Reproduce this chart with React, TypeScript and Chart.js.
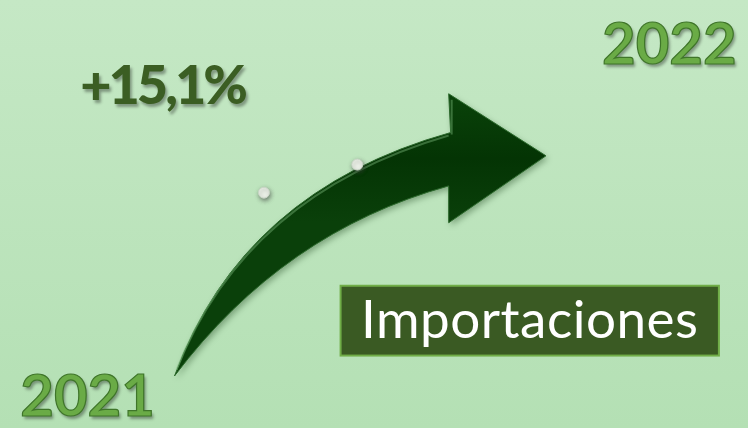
import React, { useEffect, useRef } from "react";
import { Chart, registerables } from "chart.js";

Chart.register(...registerables);

// ---- data ----
const years: string[] = ["2021", "2022"];
const growthLabel: string = "+15,1%";
const titleLabel: string = "Importaciones";
const beadX: number[] = [262, 357];
const beadY: number[] = [192, 163];

const W = 748;
const H = 428;

// arrow geometry in scale units (same units as the axes)
const arrowTail = { x: 171, y: 381 };
const upperCtrl = { x: 240, y: 190 };
const upperEnd = { x: 452, y: 130 };
const lowerCtrl = { x: 282, y: 232 };
const lowerEnd = { x: 450, y: 185 };
const headTop = { x: 450, y: 90 };
const headTip = { x: 549, y: 154 };
const headBottom = { x: 450, y: 223 };

const decorPlugin = {
  id: "decor",
  beforeDraw(chart: any) {
    const { ctx } = chart;
    const g = ctx.createLinearGradient(0, 0, 0, chart.height);
    g.addColorStop(0, "#c5e8c5");
    g.addColorStop(1, "#b4e0b4");
    ctx.save();
    ctx.fillStyle = g;
    ctx.fillRect(0, 0, chart.width, chart.height);
    ctx.restore();
  },
  beforeDatasetsDraw(chart: any) {
    const { ctx, scales } = chart;
    const px = (p: { x: number; y: number }) => [
      scales.x.getPixelForValue(p.x),
      scales.y.getPixelForValue(p.y),
    ];
    const [tx, ty] = px(arrowTail);
    const [ucx, ucy] = px(upperCtrl);
    const [uex, uey] = px(upperEnd);
    const [lcx, lcy] = px(lowerCtrl);
    const [lex, ley] = px(lowerEnd);
    const [htx, hty] = px(headTop);
    const [hpx, hpy] = px(headTip);
    const [hbx, hby] = px(headBottom);

    ctx.save();
    ctx.shadowColor = "rgba(0,40,0,0.35)";
    ctx.shadowBlur = 6;
    ctx.shadowOffsetX = 2;
    ctx.shadowOffsetY = 3;
    const fillG = ctx.createLinearGradient(0, hty, 0, hby);
    fillG.addColorStop(0, "#0a430a");
    fillG.addColorStop(0.5, "#043404");
    fillG.addColorStop(1, "#0a400a");
    ctx.fillStyle = fillG;
    ctx.beginPath();
    ctx.moveTo(tx, ty);
    ctx.quadraticCurveTo(ucx, ucy, uex, uey);
    ctx.lineTo(htx, hty);
    ctx.lineTo(hpx, hpy);
    ctx.lineTo(hbx, hby);
    ctx.lineTo(lex, ley);
    ctx.quadraticCurveTo(lcx, lcy, tx, ty);
    ctx.closePath();
    ctx.fill();
    ctx.shadowColor = "transparent";
    ctx.strokeStyle = "#2c6a2c";
    ctx.lineWidth = 1;
    ctx.stroke();
    // gloss along upper edge
    ctx.strokeStyle = "rgba(120,180,120,0.45)";
    ctx.lineWidth = 2;
    ctx.beginPath();
    ctx.moveTo(tx + 2, ty - 6);
    ctx.quadraticCurveTo(ucx + 3, ucy + 4, uex - 2, uey + 3);
    ctx.stroke();
    ctx.beginPath();
    ctx.moveTo(htx + 3, hty + 6);
    ctx.lineTo(htx + 3, uey + 2);
    ctx.stroke();
    ctx.restore();
  },
  afterDraw(chart: any) {
    const { ctx, scales } = chart;
    const X = (v: number) => scales.x.getPixelForValue(v);
    const Y = (v: number) => scales.y.getPixelForValue(v);
    ctx.save();
    ctx.textBaseline = "alphabetic";

    // growth label
    ctx.font = "900 54px Lato";
    (ctx as any).letterSpacing = "-3px";
    ctx.textAlign = "left";
    ctx.shadowColor = "rgba(0,0,0,0.35)";
    ctx.shadowBlur = 3;
    ctx.shadowOffsetX = 2;
    ctx.shadowOffsetY = 3;
    ctx.fillStyle = "#3b5e23";
    ctx.fillText(growthLabel, X(75), Y(101));
    (ctx as any).letterSpacing = "0px";

    // years
    const drawYear = (t: string, x: number, y: number, align: CanvasTextAlign) => {
      ctx.font = "bold 58px Lato";
      (ctx as any).letterSpacing = "0px";
      ctx.textAlign = align;
      ctx.shadowColor = "rgba(0,0,0,0.35)";
      ctx.shadowBlur = 3;
      ctx.shadowOffsetX = 2;
      ctx.shadowOffsetY = 3;
      ctx.fillStyle = "#6aab46";
      ctx.fillText(t, x, y);
      ctx.shadowColor = "transparent";
      ctx.strokeStyle = "#3f752a";
      ctx.lineWidth = 1.2;
      ctx.strokeText(t, x, y);
    };
    drawYear(years[0], X(14), Y(422), "left");
    drawYear(years[1], X(743), Y(59), "right");

    // title box
    ctx.shadowColor = "transparent";
    const bx = X(340), by = Y(288), bw = X(725) - X(340), bh = Y(360) - Y(288);
    ctx.fillStyle = "#3a5a23";
    ctx.fillRect(bx, by, bw, bh);
    ctx.strokeStyle = "#70ad47";
    ctx.lineWidth = 2;
    ctx.strokeRect(bx, by, bw, bh);
    ctx.fillStyle = "#ffffff";
    ctx.font = "53px Lato";
    (ctx as any).letterSpacing = "0.5px";
    ctx.textAlign = "center";
    ctx.fillText(titleLabel, bx + bw / 2, Y(342));
    ctx.restore();
  },
};

const beadShadowPlugin = {
  id: "beadShadow",
  beforeDatasetDraw(chart: any) {
    const { ctx } = chart;
    ctx.save();
    ctx.shadowColor = "rgba(60,60,60,0.6)";
    ctx.shadowBlur = 4;
    ctx.shadowOffsetX = 1;
    ctx.shadowOffsetY = 2;
  },
  afterDatasetDraw(chart: any) {
    chart.ctx.restore();
  },
};

export default function App() {
  const ref = useRef<HTMLCanvasElement | null>(null);
  useEffect(() => {
    if (!ref.current) return;
    const chart = new Chart(ref.current, {
      type: "scatter",
      data: {
        datasets: [
          {
            label: titleLabel,
            data: beadX.map((x, i) => ({ x, y: beadY[i] })),
            pointRadius: 5.5,
            pointBackgroundColor: "#eef3ea",
            pointBorderColor: "#c9d6c6",
            pointBorderWidth: 1,
            showLine: false,
          },
        ],
      },
      options: {
        responsive: false,
        animation: false,
        layout: { padding: 0 },
        plugins: {
          legend: { display: false },
          tooltip: { enabled: false },
        },
        scales: {
          x: { type: "linear", min: 0, max: W, display: false },
          y: { type: "linear", min: 0, max: H, reverse: true, display: false },
        },
      },
      plugins: [decorPlugin, beadShadowPlugin],
    });
    return () => chart.destroy();
  }, []);
  return (
    <div style={{ position: "fixed", left: 0, top: 0, width: W, height: H }}>
      <canvas ref={ref} width={W} height={H} style={{ display: "block" }} />
    </div>
  );
}
